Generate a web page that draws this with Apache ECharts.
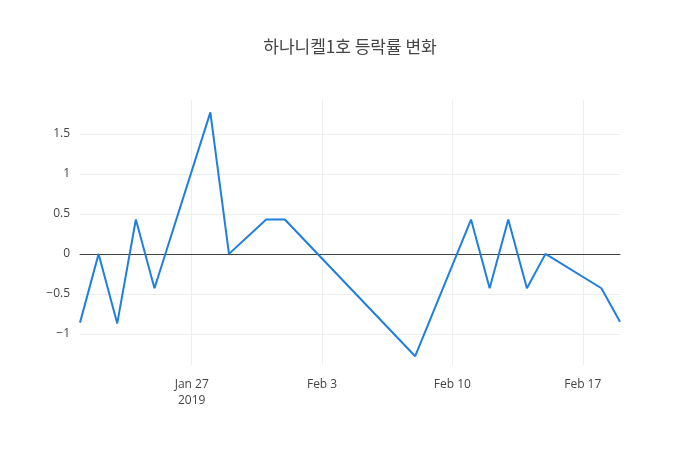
<!DOCTYPE html>
<html>
<head>
<meta charset="UTF-8">
<script src="https://cdn.jsdelivr.net/npm/echarts@6/dist/echarts.min.js"></script>
<style>body{margin:0}#main{width:700px;height:450px}</style>
</head>
<body>
<div id="main"></div>
<script>
// days relative to Jan 27 2019
var days = [-6, -5, -4, -3, -2, 1, 2, 4, 5, 12, 15, 16, 17, 18, 19, 22, 23];
var values = [-0.86, 0, -0.87, 0.43, -0.43, 1.77, 0, 0.43, 0.43, -1.28, 0.43, -0.43, 0.43, -0.43, 0, -0.43, -0.85];
var xTicks = [0, 7, 14, 21];
var xTickLabels = ['Jan 27\n2019', 'Feb 3', 'Feb 10', 'Feb 17'];
var yTicks = [-1, -0.5, 0, 0.5, 1, 1.5];

var myChart = echarts.init(document.getElementById('main'));
var data = days.map(function (d, i) { return [d, values[i]]; });
var option = {
    backgroundColor: '#fff',
    animation: false,
    title: {
        text: '하나니켈1호 등락률 변화',
        left: 'center',
        top: 33,
        textStyle: { fontFamily: 'Noto Sans CJK KR', fontSize: 17, fontWeight: 'normal', color: '#444' }
    },
    grid: { left: 80, right: 80, top: 100, bottom: 85 },
    xAxis: {
        type: 'value',
        min: -6,
        max: 23,
        axisLine: { onZero: true, lineStyle: { color: '#444', width: 1 } },
        axisTick: { show: false, customValues: xTicks },
        axisLabel: {
            customValues: xTicks,
            color: '#444', fontSize: 12, fontFamily: 'Open Sans', lineHeight: 16, margin: 12,
            formatter: function (v) { return xTickLabels[xTicks.indexOf(v)] || ''; }
        },
        splitLine: { show: true, lineStyle: { color: '#eee' } }
    },
    yAxis: {
        type: 'value',
        min: -1.39,
        max: 1.925,
        axisLine: { show: false },
        axisTick: { show: false, customValues: yTicks },
        axisLabel: {
            customValues: yTicks,
            color: '#444', fontSize: 12, fontFamily: 'Open Sans', margin: 10,
            formatter: function (v) { return String(v).replace('-', '\u2212'); }
        },
        splitLine: { show: true, lineStyle: { color: '#eee' } }
    },
    series: [{
        type: 'line',
        data: data,
        showSymbol: false,
        lineStyle: { color: '#1f7fe0', width: 2 },
        itemStyle: { color: '#1f7fe0' }
    }]
};
myChart.setOption(option);
</script>
</body>
</html>
